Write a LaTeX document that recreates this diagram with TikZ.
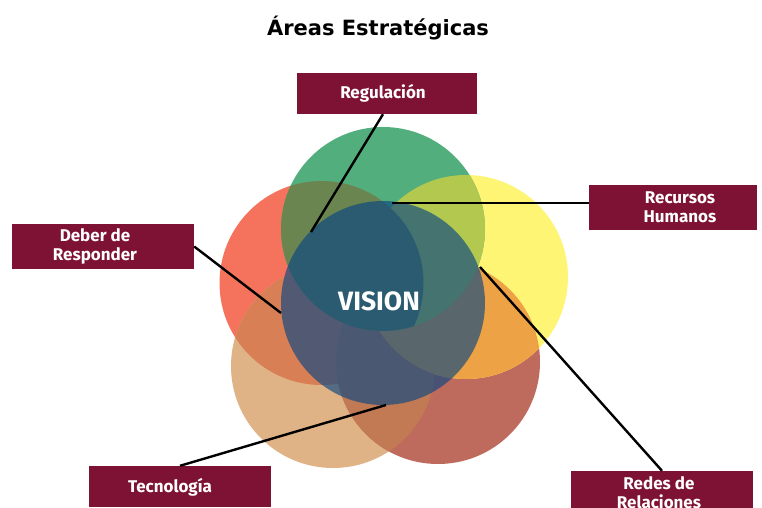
\documentclass[tikz,border=0pt]{standalone}
\usepackage{fontspec}
\setmainfont{Fira Sans}
\newfontfamily\titlefont{DejaVu Sans}
\definecolor{boxred}{HTML}{7E1235}
\definecolor{cgreen}{RGB}{82,174,125}
\definecolor{cred}{RGB}{245,115,93}
\definecolor{cyellow}{RGB}{255,245,116}
\definecolor{ctan}{RGB}{224,179,134}
\definecolor{cbrown}{RGB}{190,107,93}
\definecolor{xgr}{RGB}{107,133,80}
\definecolor{xgy}{RGB}{179,200,79}
\definecolor{xyb}{RGB}{237,163,69}
\definecolor{xbt}{RGB}{194,122,85}
\definecolor{xtr}{RGB}{217,127,85}
\definecolor{cblue}{RGB}{10,70,130}
\begin{document}
\begin{tikzpicture}[x=1pt,y=-1pt,
  areabox/.style={fill=boxred, inner sep=0pt},
  areatext/.style={text=white, font=\bfseries\fontsize{17}{19}\selectfont, align=center, inner sep=0pt},
  link/.style={draw=black, line width=2.4pt}]
\useasboundingbox (0,0) rectangle (762,508);
\fill[white] (0,0) rectangle (762,508);
% title
\node[font=\titlefont\bfseries\fontsize{21}{25}\selectfont] (title) at (378,28) {Áreas Estratégicas};
% circle centres
\coordinate (pg) at (383,229);
\coordinate (pr) at (321.5,283);
\coordinate (py) at (466,277);
\coordinate (pt) at (333,366);
\coordinate (pb) at (438,362);
\coordinate (pv) at (383,303);
\def\R{102pt}
% base circles
\fill[cred] (pr) circle[radius=\R];
\fill[ctan] (pt) circle[radius=\R];
\fill[cbrown] (pb) circle[radius=\R];
\fill[cyellow] (py) circle[radius=\R];
\fill[cgreen] (pg) circle[radius=\R];
% overlaps
\begin{scope}\clip (pt) circle[radius=\R]; \fill[xtr] (pr) circle[radius=\R];\end{scope}
\begin{scope}\clip (pb) circle[radius=\R]; \fill[xbt] (pt) circle[radius=\R];\end{scope}
\begin{scope}\clip (py) circle[radius=\R]; \fill[xyb] (pb) circle[radius=\R];\end{scope}
\begin{scope}\clip (pg) circle[radius=\R]; \fill[xgy] (py) circle[radius=\R];\end{scope}
\begin{scope}\clip (pg) circle[radius=\R]; \fill[xgr] (pr) circle[radius=\R];\end{scope}
% centre circle
\fill[cblue, fill opacity=0.65] (pv) circle[radius=\R];
\node[text=white, font=\bfseries\fontsize{26.5}{30}\selectfont, inner sep=0pt] (vision) at (379,301) {VISION};
% boxes
\node[areabox, minimum width=180pt, minimum height=41pt] (reg) at (387,93.5) {};
\node[areatext] (regT) at (383,93) {Regulación};
\node[areabox, minimum width=182pt, minimum height=45pt] (deb) at (103,246.5) {};
\node[areatext] (debT) at (95,246.5) {Deber de\\Responder};
\node[areabox, minimum width=168pt, minimum height=45pt] (rec) at (673,207.5) {};
\node[areatext] (recT) at (680,207) {Recursos\\Humanos};
\node[areabox, minimum width=182pt, minimum height=41pt] (tec) at (180,486.5) {};
\node[areatext] (tecT) at (170,487) {Tecnología};
\node[areabox, minimum width=182pt, minimum height=41pt] (red) at (662,491.5) {};
\node[areatext] (redT) at (659,492.5) {Redes de\\Relaciones};
% end points on circles
\coordinate (eReg) at (311,232);
\coordinate (eRec) at (392,203);
\coordinate (eDeb) at (281,313);
\coordinate (eRed) at (480,267);
\coordinate (eTec) at (386,405);
% connectors
\draw[link] ([xshift=-4pt]reg.south) -- (eReg);
\draw[link] (rec.west |- eRec) -- (eRec);
\draw[link] (deb.east) -- (eDeb);
\draw[link] (red.north) -- (eRed);
\draw[link] (tec.north) -- (eTec);
\end{tikzpicture}
\end{document}
